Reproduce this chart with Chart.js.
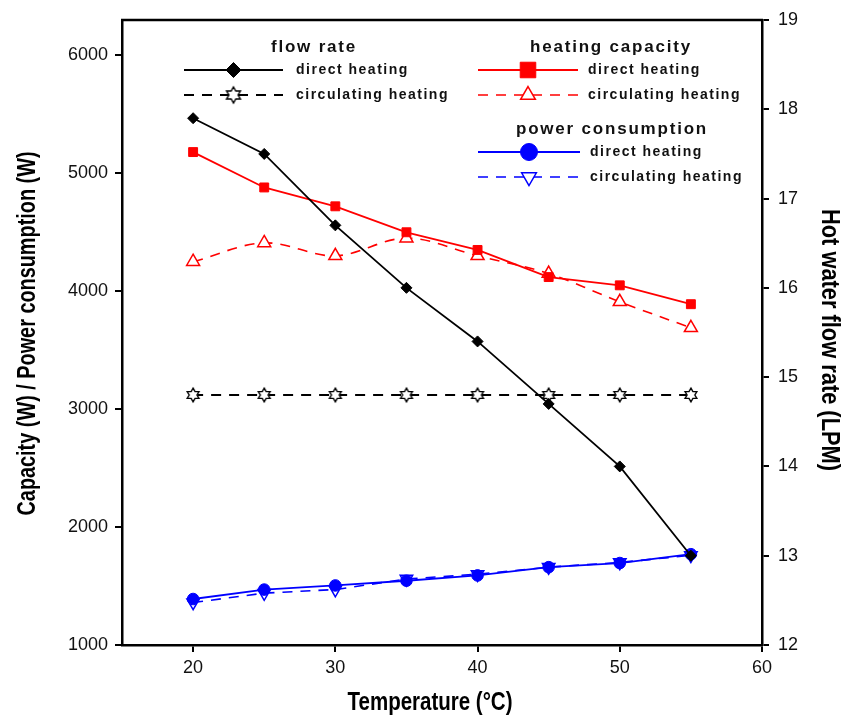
<!DOCTYPE html>
<html>
<head>
<meta charset="utf-8">
<script src="https://cdn.jsdelivr.net/npm/chart.js@4/dist/chart.umd.min.js"></script>
<style>
  html, body { margin: 0; padding: 0; background: #fff; }
  #wrap { width: 848px; height: 722px; position: relative; }
</style>
</head>
<body>
<div id="wrap"><canvas id="c" width="848" height="722"></canvas></div>
<script>
// ---- data ----
const temps = [20, 25, 30, 35, 40, 45, 50, 55];
const flowDirect = [17.9, 17.5, 16.7, 16.0, 15.4, 14.7, 14.0, 13.0];
const flowCirc = [14.8, 14.8, 14.8, 14.8, 14.8, 14.8, 14.8, 14.8];
const capDirect = [5180, 4880, 4720, 4500, 4350, 4120, 4050, 3890];
const capCirc = [4250, 4410, 4300, 4450, 4300, 4150, 3910, 3690];
const powerDirect = [1390, 1470, 1505, 1545, 1590, 1660, 1695, 1770];
const powerCirc = [1360, 1440, 1470, 1560, 1600, 1660, 1700, 1760];
const xTicks = [20, 30, 40, 50, 60];
const leftTicks = [1000, 2000, 3000, 4000, 5000, 6000];
const rightTicks = [12, 13, 14, 15, 16, 17, 18, 19];
const groupTitles = ['flow rate', 'heating capacity', 'power consumption'];
const entryLabels = ['direct heating', 'circulating heating'];
const xTitle = 'Temperature (°C)';
const yTitle = 'Capacity (W) / Power consumption (W)';
const y1Title = 'Hot water flow rate (LPM)';

// hexagram marker
function makeHexagram(r, ri) {
  const s = Math.ceil(r * 2 + 4);
  const cv = document.createElement('canvas');
  cv.width = s; cv.height = s;
  const g = cv.getContext('2d');
  const c = s / 2;
  g.beginPath();
  for (let i = 0; i < 12; i++) {
    const a = -Math.PI / 2 + i * Math.PI / 6;
    const rr = i % 2 === 0 ? r : ri;
    const px = c + rr * Math.cos(a), py = c + rr * Math.sin(a);
    if (i === 0) g.moveTo(px, py); else g.lineTo(px, py);
  }
  g.closePath();
  g.fillStyle = '#fff';
  g.fill();
  g.lineWidth = 1.4;
  g.strokeStyle = '#000';
  g.stroke();
  return cv;
}
const hexImg = makeHexagram(6.8, 3.9);
const hexImgBig = makeHexagram(8, 4.6);

const pts = arr => temps.map((t, i) => ({ x: t, y: arr[i] }));
const RED = '#ff0000', BLUE = '#0000ff', BLACK = '#000000';
const DASH = [10, 8];

const datasets = [
  { label: 'flow rate direct heating', data: pts(flowDirect), yAxisID: 'y1',
    borderColor: BLACK, backgroundColor: BLACK, borderWidth: 1.8,
    pointStyle: 'rectRot', pointRadius: 5.5, pointBorderWidth: 1, tension: 0, legendRadius: 7.5 },
  { label: 'flow rate circulating heating', data: pts(flowCirc), yAxisID: 'y1',
    borderColor: BLACK, backgroundColor: '#fff', borderWidth: 1.8, borderDash: DASH,
    pointStyle: hexImg, pointRadius: 7, tension: 0, legendStyle: hexImgBig, legendRadius: 8 },
  { label: 'heating capacity direct heating', data: pts(capDirect), yAxisID: 'y',
    borderColor: RED, backgroundColor: RED, borderWidth: 1.8,
    pointStyle: 'rect', pointRadius: 6.3, pointBorderWidth: 1, tension: 0, legendRadius: 11 },
  { label: 'heating capacity circulating heating', data: pts(capCirc), yAxisID: 'y',
    borderColor: RED, backgroundColor: '#fff', borderWidth: 1.6, borderDash: DASH,
    pointStyle: 'triangle', pointRadius: 7.5, pointBorderWidth: 1.5, tension: 0.35, legendRadius: 8.5 },
  { label: 'power consumption direct heating', data: pts(powerDirect), yAxisID: 'y',
    borderColor: BLUE, backgroundColor: BLUE, borderWidth: 1.8,
    pointStyle: 'circle', pointRadius: 5.8, pointBorderWidth: 1, tension: 0, legendRadius: 8.5 },
  { label: 'power consumption circulating heating', data: pts(powerCirc), yAxisID: 'y',
    borderColor: BLUE, backgroundColor: '#fff', borderWidth: 1.6, borderDash: DASH,
    pointStyle: 'triangle', pointRotation: 180, pointRadius: 7.2, pointBorderWidth: 1.5, tension: 0, legendRadius: 8.5 }
];

// custom grouped legend drawn on canvas
const legendLayout = [
  { title: groupTitles[0], tx: 314, ty: 47, rows: [ {ds: 0, y: 70}, {ds: 1, y: 95} ], x0: 184, x1: 283, tx0: 296 },
  { title: groupTitles[1], tx: 611, ty: 47, rows: [ {ds: 2, y: 70}, {ds: 3, y: 95} ], x0: 478, x1: 578, tx0: 588 },
  { title: groupTitles[2], tx: 612, ty: 129, rows: [ {ds: 4, y: 152}, {ds: 5, y: 177} ], x0: 478, x1: 580, tx0: 590 }
];

const groupLegend = {
  id: 'groupLegend',
  afterDraw(chart) {
    const ctx = chart.ctx;
    legendLayout.forEach(g => {
      ctx.save();
      ctx.fillStyle = '#111';
      ctx.font = 'bold 17px "Liberation Sans", Arial, sans-serif';
      if ('letterSpacing' in ctx) ctx.letterSpacing = '1.8px';
      ctx.textAlign = 'center';
      ctx.textBaseline = 'middle';
      ctx.fillText(g.title, g.tx, g.ty);
      ctx.restore();
      g.rows.forEach((r, i) => {
        const ds = chart.data.datasets[r.ds];
        ctx.save();
        ctx.strokeStyle = ds.borderColor;
        ctx.lineWidth = ds.borderWidth;
        ctx.setLineDash(ds.borderDash || []);
        ctx.beginPath();
        ctx.moveTo(g.x0, r.y);
        ctx.lineTo(g.x1, r.y);
        ctx.stroke();
        ctx.setLineDash([]);
        const mx = (g.x0 + g.x1) / 2;
        ctx.fillStyle = ds.backgroundColor;
        ctx.strokeStyle = ds.borderColor;
        ctx.lineWidth = ds.pointBorderWidth || 1;
        Chart.helpers.drawPoint(ctx, {
          pointStyle: ds.legendStyle || ds.pointStyle,
          rotation: ds.pointRotation || 0,
          radius: ds.legendRadius,
          borderWidth: ds.pointBorderWidth || 1
        }, mx, r.y);
        ctx.restore();
        ctx.save();
        ctx.fillStyle = '#111';
        ctx.font = 'bold 14px "Liberation Sans", Arial, sans-serif';
        if ('letterSpacing' in ctx) ctx.letterSpacing = '1.5px';
        ctx.textAlign = 'left';
        ctx.textBaseline = 'middle';
        ctx.fillText(entryLabels[i], g.tx0, r.y);
        ctx.restore();
      });
    });
  }
};

// top frame line
const topFrame = {
  id: 'topFrame',
  afterDraw(chart) {
    const { left, right, top } = chart.chartArea;
    const ctx = chart.ctx;
    ctx.save();
    ctx.strokeStyle = '#000';
    ctx.lineWidth = 2.5;
    ctx.beginPath();
    ctx.moveTo(left - 1, top);
    ctx.lineTo(right + 1, top);
    ctx.stroke();
    ctx.restore();
  }
};

// condensed axis titles (narrow font emulated by horizontal scaling)
const TITLE_FONT = 'bold 25px "Liberation Sans", Arial, sans-serif';
function drawNarrow(ctx, text, cx, cy, rot, targetLen) {
  ctx.save();
  ctx.font = TITLE_FONT;
  ctx.fillStyle = '#000';
  ctx.textAlign = 'center';
  ctx.textBaseline = 'middle';
  const w = ctx.measureText(text).width;
  ctx.translate(cx, cy);
  ctx.rotate(rot);
  ctx.scale(targetLen / w, 1);
  ctx.fillText(text, 0, 0);
  ctx.restore();
}
const axisTitles = {
  id: 'axisTitles',
  afterDraw(chart) {
    const ctx = chart.ctx;
    const ca = chart.chartArea;
    drawNarrow(ctx, xTitle, 430, 703, 0, 165);
    drawNarrow(ctx, yTitle, 28, (ca.top + ca.bottom) / 2 + 1, -Math.PI / 2, 364);
    drawNarrow(ctx, y1Title, 829, 340, Math.PI / 2, 262);
  }
};

const tickFont = { family: '"Liberation Sans", Arial, sans-serif', size: 18 };
const plain = v => String(v);

const chart = new Chart(document.getElementById('c'), {
  type: 'line',
  data: { datasets },
  options: {
    responsive: false,
    animation: false,
    layout: { padding: { top: 20, left: 0, right: 0, bottom: 0 } },
    plugins: { legend: { display: false }, tooltip: { enabled: false } },
    elements: { line: { fill: false } },
    scales: {
      x: {
        type: 'linear', min: 15, max: 60,
        afterBuildTicks: s => { s.ticks = xTicks.map(v => ({ value: v })); },
        afterFit: s => { s.height = 77; },
        grid: { drawOnChartArea: false, color: '#000', lineWidth: 2, tickLength: 7 },
        border: { display: true, color: '#000', width: 2.5 },
        ticks: { color: '#111', font: tickFont, padding: 5, maxRotation: 0, callback: plain }
      },
      y: {
        type: 'linear', position: 'left', min: 1000, max: 6300,
        afterBuildTicks: s => { s.ticks = leftTicks.map(v => ({ value: v })); },
        afterFit: s => { s.width = 122; },
        grid: { drawOnChartArea: false, color: '#000', lineWidth: 2, tickLength: 7 },
        border: { display: true, color: '#000', width: 2.5 },
        ticks: { color: '#111', font: tickFont, padding: 7, callback: plain }
      },
      y1: {
        type: 'linear', position: 'right', min: 12, max: 19,
        afterBuildTicks: s => { s.ticks = rightTicks.map(v => ({ value: v })); },
        afterFit: s => { s.width = 86; },
        grid: { drawOnChartArea: false, color: '#000', lineWidth: 2, tickLength: 7 },
        border: { display: true, color: '#000', width: 2.5 },
        ticks: { color: '#111', font: tickFont, padding: 9, callback: plain }
      }
    }
  },
  plugins: [topFrame, groupLegend, axisTitles]
});
</script>
</body>
</html>
